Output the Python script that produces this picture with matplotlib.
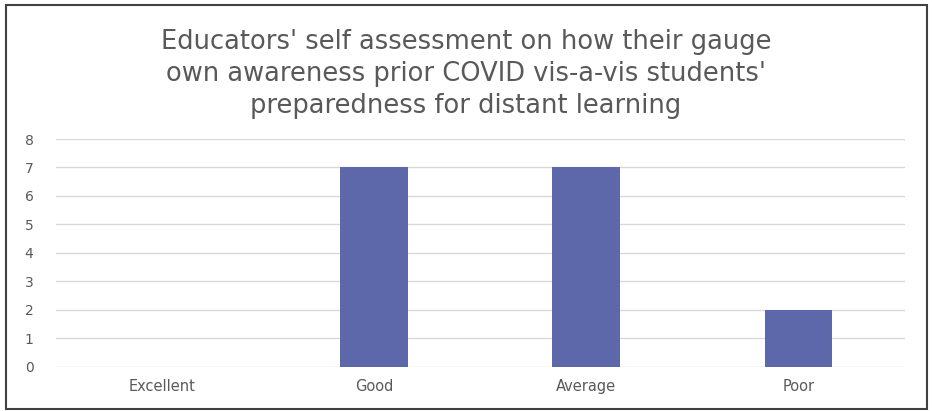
import matplotlib.pyplot as plt
from matplotlib.patches import Rectangle

# Survey responses
categories = ['Excellent', 'Good', 'Average', 'Poor']
counts = [0, 7, 7, 2]
yticks = [0, 1, 2, 3, 4, 5, 6, 7, 8]

title = ("Educators' self assessment on how their gauge\n"
         "own awareness prior COVID vis-a-vis students'\n"
         "preparedness for distant learning")

fig = plt.figure(figsize=(9.32, 4.11), dpi=100)
ax = fig.add_axes([0.0597, 0.1071, 0.9109, 0.5547])

x = range(len(categories))
ax.bar(x, counts, width=0.32, color='#5c68aa', zorder=2)

ax.set_xlim(-0.5, len(categories) - 0.5)
ax.set_ylim(0, 8)
ax.set_yticks(yticks)
ax.set_xticks(list(x))
ax.set_xticklabels(categories, fontsize=10.5, color='#595959', family='DejaVu Sans')
ax.tick_params(axis='y', labelsize=10, labelcolor='#595959', length=0, pad=16)
ax.tick_params(axis='x', length=0, pad=9)
ax.grid(axis='y', color='#d9d9d9', lw=1, zorder=0)
for s in ax.spines.values():
    s.set_visible(False)

fig.text(0.5, 0.93, title, ha='center', va='top', fontsize=18.5,
         color='#595959', family='DejaVu Sans', linespacing=1.3)

# outer frame
fig.patches.append(Rectangle((0.006, 0.005), 0.989, 0.983, transform=fig.transFigure,
                             fill=False, edgecolor='#404040', lw=1.5))

plt.savefig('out.png', dpi=100)
